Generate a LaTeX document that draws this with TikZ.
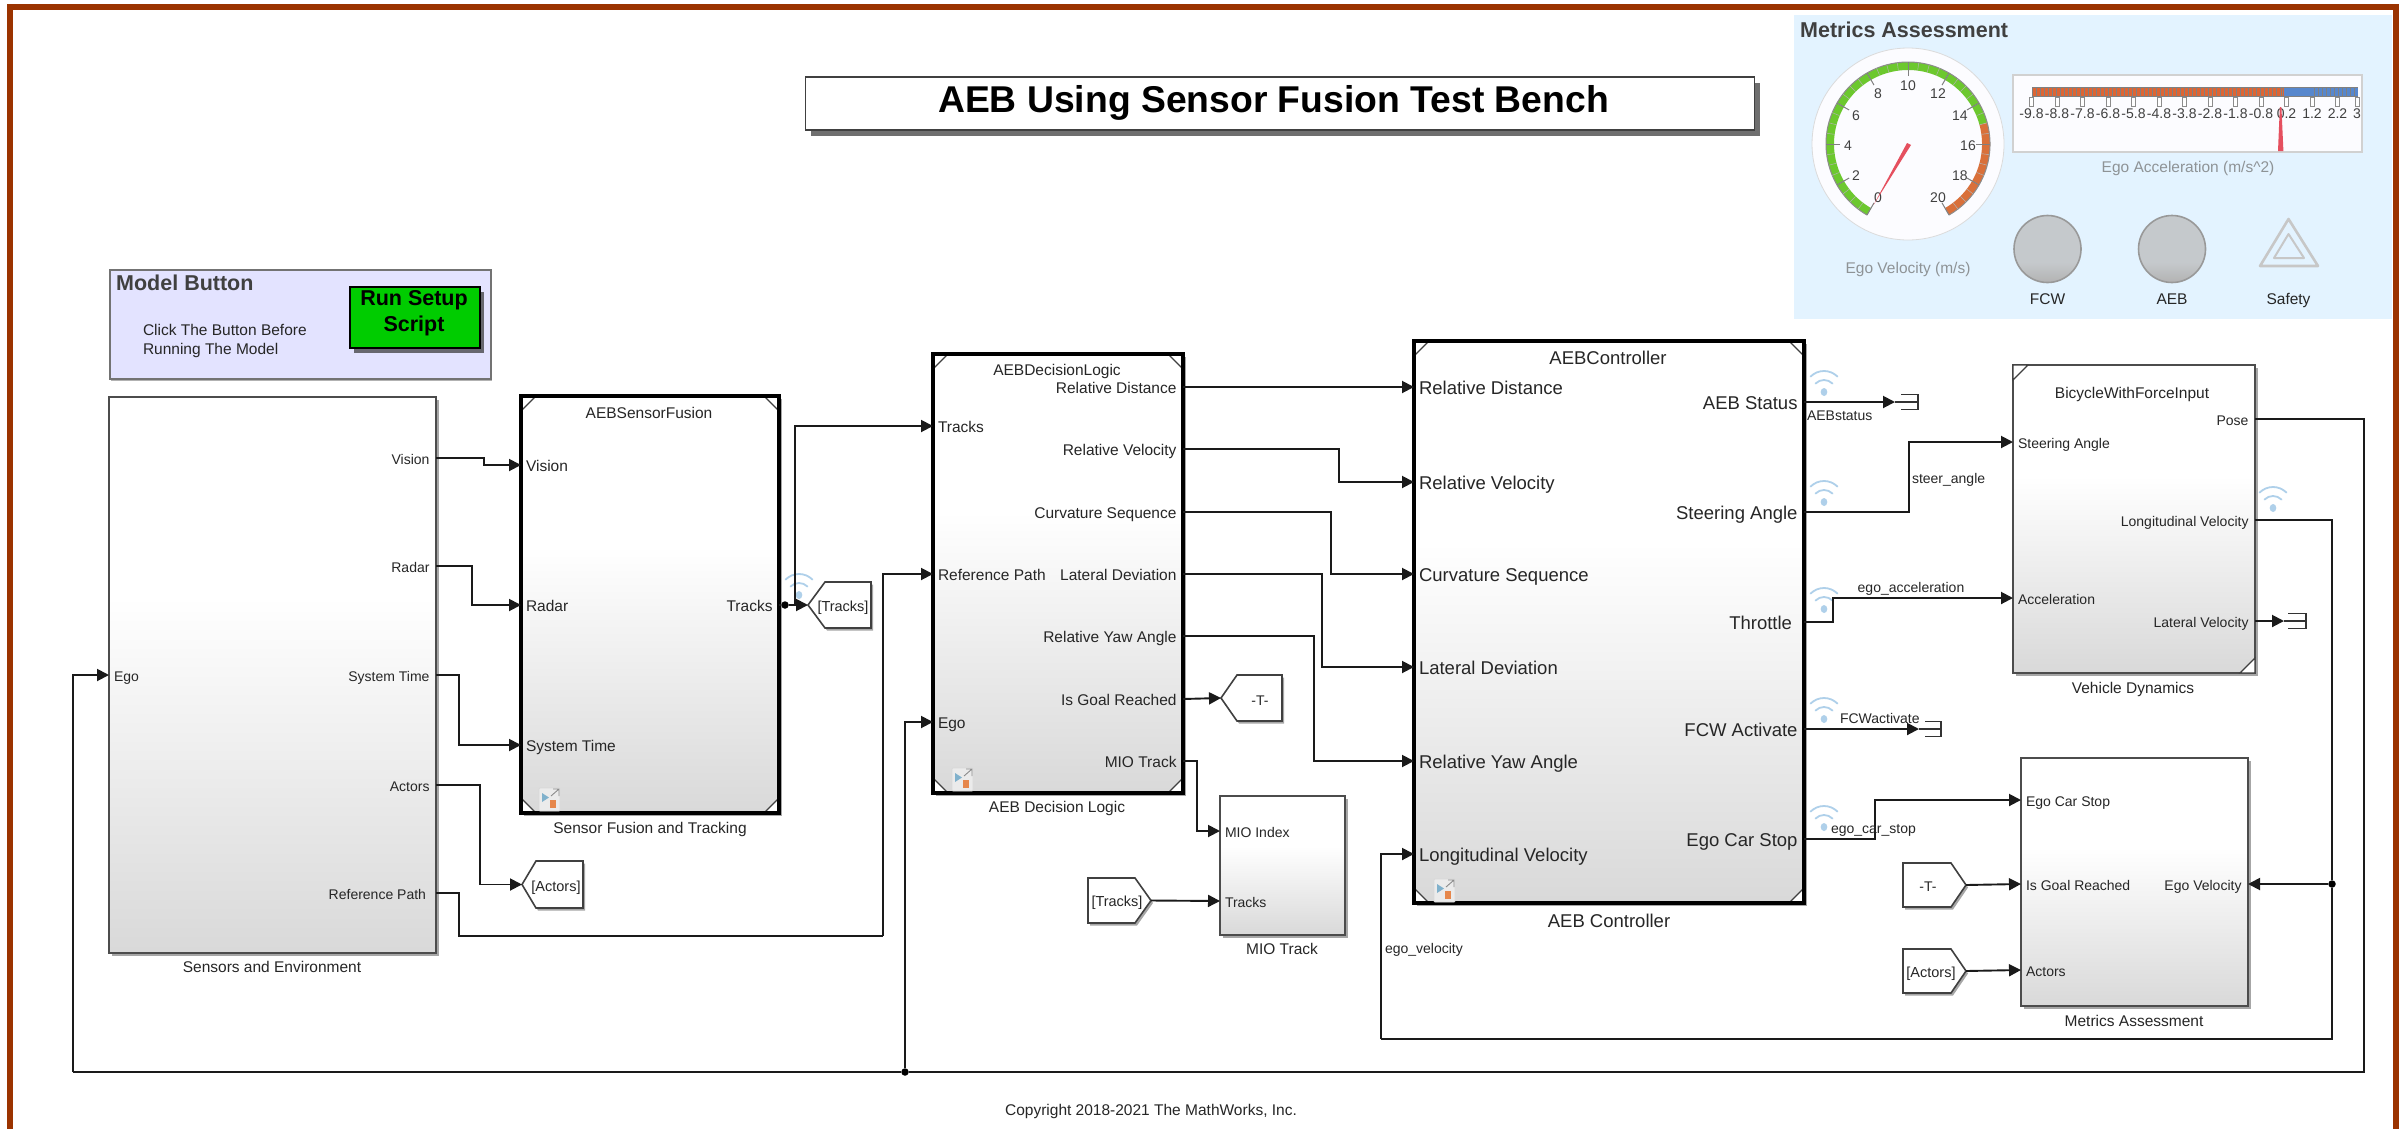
\documentclass[tikz,border=0pt]{standalone}
\usepackage{fontspec}
\setmainfont{Liberation Sans}
\usetikzlibrary{arrows.meta,shadows,calc}
\definecolor{brownframe}{HTML}{9B3300}
\definecolor{panelblue}{HTML}{E3F3FF}
\definecolor{wireblack}{HTML}{1A1A1A}
\definecolor{txt}{HTML}{262626}
\definecolor{wifiblue}{HTML}{AFD0EA}
\definecolor{ggreen}{HTML}{6CC82E}
\definecolor{gorange}{HTML}{D9703A}
\definecolor{nred}{HTML}{E5505F}
\definecolor{capgray}{HTML}{8E9396}
\definecolor{lampgray}{HTML}{C5C9CC}
\pgfdeclareverticalshading{simblock}{100bp}{color(0bp)=(black!15); color(25bp)=(black!15); color(57bp)=(white); color(100bp)=(white)}
\pgfdeclareverticalshading{lampshade}{100bp}{color(0bp)=(black!30); color(25bp)=(black!30); color(40bp)=(lampgray); color(100bp)=(lampgray)}
\tikzset{
  f14/.style={font=\fontsize{14}{16}\selectfont,text height=14.9pt,text depth=2.8pt,inner ysep=0pt},
  f15/.style={font=\fontsize{15.5}{18}\selectfont,text height=16.3pt,text depth=3.1pt,inner ysep=0pt},
  f18/.style={font=\fontsize{18.5}{22}\selectfont,text height=19pt,text depth=3.7pt,inner ysep=0pt},
  fb21/.style={font=\bfseries\fontsize{21.5}{25}\selectfont,text height=19.8pt,text depth=4.3pt,inner ysep=0pt},
  fb39/.style={font=\bfseries\fontsize{37.3}{44}\selectfont,text height=34.3pt,text depth=7.5pt,inner ysep=0pt},
  lab/.style={text=txt,inner sep=0pt,outer sep=0pt},
  pl/.style={lab,anchor=west,inner xsep=5pt},
  pr/.style={lab,anchor=east,inner xsep=6.5pt},
  blockbase/.style={anchor=north west,inner sep=0pt,outer sep=0pt,shade,shading=simblock,
     drop shadow={shadow xshift=2.5pt,shadow yshift=-3pt,fill=black,opacity=.35}},
  block/.style={blockbase,draw=black!70,line width=1.8pt},
  heavy/.style={blockbase,draw=black,line width=3.6pt},
  size/.style 2 args={minimum width=#1pt,minimum height=#2pt},
  conn/.style={draw=wireblack,line width=1.9pt,line join=miter},
  arr/.style={conn,-{Triangle[length=12pt,width=12pt]}},
  dotj/.style={circle,fill=black,inner sep=0pt,minimum size=7.5pt,outer sep=0pt},
  cornerl/.style={draw=black!75,line width=1.2pt,fill=white},
  tagshape/.style={draw=black!75,line width=1.6pt,fill=white,line join=miter,
     drop shadow={shadow xshift=2pt,shadow yshift=-2.5pt,fill=black,opacity=.35}},
  anch/.style={inner sep=0pt,outer sep=0pt,minimum height=1pt},
  wifiarc/.style={draw=wifiblue,line width=1.8pt,line cap=round},
  capt/.style={text=capgray,inner sep=0pt},
  panelt/.style={text=black!75,inner sep=0pt},
}
% tags: name, tip x, body x, far x, top y, bottom y
\newcommand{\tagleft}[6]{%
  \node[anch,minimum width={(#4-#2)*1pt},minimum height=2pt] (#1) at ({(#2+#4)/2},{(#5+#6)/2}) {};
  \draw[tagshape] (#1.west) -- (#3,#5) -- (#4,#5) -- (#4,#6) -- (#3,#6) -- cycle;}
\newcommand{\tagright}[6]{%
  \node[anch,minimum width={(#4-#2)*1pt},minimum height=2pt] (#1) at ({(#2+#4)/2},{(#5+#6)/2}) {};
  \draw[tagshape] (#1.east) -- (#3,#6) -- (#2,#6) -- (#2,#5) -- (#3,#5) -- cycle;}
% terminator: name, arrow-end x, body start x, far x, y, half height
\newcommand{\termin}[6]{%
  \node[anch,minimum width={(#4-#2)*1pt},minimum height=2pt] (#1) at ({(#2+#4)/2},#5) {};
  \draw[draw=black!80,line width=1.5pt] (#3,#5-#6) -- (#4,#5-#6) -- (#4,#5+#6) -- (#3,#5+#6);
  \draw[draw=black!80,line width=1.2pt] (#1.west) -- (#1.east);}
\newcommand{\wifisign}[2]{%
  \begin{scope}[shift={(#1,#2)},y=1pt]
    \fill[wifiblue] (0,0) ellipse (3.3 and 4);
    \draw[wifiarc] (45:12) arc (45:135:12);
    \draw[wifiarc] ($(0,2)+(45:19)$) arc (45:135:19);
  \end{scope}}
\newcommand{\refico}[2]{%
  \begin{scope}[shift={(#1,#2)}]
    \fill[black!8,draw=black!15,line width=.8pt,rounded corners=1pt] (0,0) rectangle (21,23);
    \fill[blue!35!cyan!60!black!50] (3,5) -- (3,14) -- (10,9.5) -- cycle;
    \fill[red!60!black!35!orange!70] (11,12) rectangle (17,20);
    \draw[black!45,line width=.9pt] (12,8) -- (20,1) (14,1) -- (20,1) -- (20,8);
  \end{scope}}
\begin{document}
\begin{tikzpicture}[x=1pt,y=-1pt]
\useasboundingbox (0,0) rectangle (2404,1128);
\fill[white] (0,0) rectangle (2404,1128);
% ---- dashboard panel
\fill[panelblue] (1794,15) rectangle (2392,319);
\draw[brownframe,line width=6pt,line join=miter] (10,1130) -- (10,7) -- (2395.5,7) -- (2395.5,1130);
\node[fb21,panelt,anchor=west] (dashtitle) at (1800,30) {Metrics Assessment};
% gauge
\begin{scope}[shift={(1908,144)},y=1pt]
  \draw[black!14,line width=.8pt,fill=blue!1!white] (0,0) circle (96);
  \draw[ggreen,line width=8pt] (240:78) arc (240:15:78);
  \draw[gorange,line width=8pt] (15:78) arc (15:-60:78);
  \draw[black!45,line width=1pt] (240:82) arc (240:-60:82);
  \foreach \u in {0,0.5,...,20}{\draw[black!30,line width=.5pt] ({240-15*\u}:74) -- ({240-15*\u}:82);}
  \foreach \u in {0,2,...,20}{\draw[black!50,line width=1pt] ({240-15*\u}:68) -- ({240-15*\u}:82);}
  \foreach \u in {0,2,...,20}{\node[f14,lab,text=black!75,anchor=center] (gaugelab\u) at ({240-15*\u}:60) {\u};}
  \fill[nred] (-1,1) -- (3,-1) -- (-34.5,-61) -- cycle;
\end{scope}
\node[f15,capt] (gaugecap) at (1908,267) {Ego Velocity (m/s)};
% linear gauge
\draw[black!18,line width=1.4pt,fill=blue!1!white] (2013,75) rectangle (2362,152);
\fill[black!50] (2031.5,87) rectangle (2358,97);
\foreach \k in {0,...,62}{\fill[gorange!90!red] ({2032.5+\k*4.0},88) rectangle ({2035.8+\k*4.0},96);}
\fill[black!50] (2281.5,87) rectangle (2283,97);
\foreach \k in {0,...,18}{\fill[cyan!45!blue!70!white] ({2283.5+\k*3.95},88) rectangle ({2286.8+\k*3.95},96);}
\foreach \v/\x in {-9.8/2031.5,-8.8/2057,-7.8/2082.5,-6.8/2108,-5.8/2133.5,-4.8/2159,-3.8/2184.5,-2.8/2210,-1.8/2235.5,-0.8/2261,0.2/2286.5,1.2/2312,2.2/2337.5,3/2357}{
  \draw[black!45,line width=.7pt,fill=white] (\x-2,97) rectangle (\x+2,106);
  \node[f14,lab,text=black!75,anchor=center] (lin\x) at (\x,112) {\v};}
\fill[nred] (2279.8,107) -- (2281.4,107) -- (2283.4,151) -- (2278,151) -- cycle;
\node[f15,capt] (lincap) at (2188,166) {Ego Acceleration (m/s\^{}2)};
% lamps
\node[circle,draw=black!40,line width=1.6pt,shade,shading=lampshade,minimum size=67pt,inner sep=0pt] (lampfcw) at (2047.5,249) {};
\node[circle,draw=black!40,line width=1.6pt,shade,shading=lampshade,minimum size=67pt,inner sep=0pt] (lampaeb) at (2172,249) {};
\node[f15,lab] (fcwtxt) at (2047.5,298) {FCW};
\node[f15,lab] (aebtxt) at (2172,298) {AEB};
\node[f15,lab] (safetxt) at (2288.5,298) {Safety};
\draw[black!22,line width=2.6pt,line join=round] (2288.5,219) -- (2318,266) -- (2260,266) -- cycle;
\draw[black!22,line width=2pt,line join=round] (2288.5,234) -- (2304,258) -- (2274,258) -- cycle;
% ---- title
\node[anchor=north west,inner sep=0pt,outer sep=0pt,size={949}{53},draw=black!75,line width=1.8pt,fill=white,
  drop shadow={shadow xshift=5pt,shadow yshift=-6pt,fill=black!70,opacity=.8}] (titlebox) at (805.5,77) {};
\node[fb39,text=black,inner sep=0pt] (titletxt) at (1273.5,99) {AEB Using Sensor Fusion Test Bench};
% ---- model button
\node[anchor=north west,inner sep=0pt,size={381}{109},draw=black!55,line width=1.6pt,fill=blue!11!white,
  drop shadow={shadow xshift=1.5pt,shadow yshift=-2pt,fill=black,opacity=.3}] (mbbox) at (109,269) {};
\node[fb21,panelt,anchor=west] (mbtitle) at (116,283) {Model Button};
\node[f15,lab,anchor=west] (mb1) at (143,329) {Click The Button Before};
\node[f15,lab,anchor=west] (mb2) at (143,348) {Running The Model};
\node[anchor=north west,inner sep=0pt,size={130}{61},draw=black,line width=1.6pt,fill=green!80!black,
  drop shadow={shadow xshift=4pt,shadow yshift=-5pt,fill=black!80,opacity=.7}] (runbtn) at (349,286) {};
\node[fb21,text=black,inner sep=0pt] (run1) at (414,298) {Run Setup};
\node[fb21,text=black,inner sep=0pt] (run2) at (414,324) {Script};
% ---- blocks
\node[block,size={327}{556}] (sens) at (109,397) {};
\node[heavy,size={258}{417}] (fus) at (521,396) {};
\node[heavy,size={250}{439}] (dec) at (933,354) {};
\node[heavy,size={390}{562}] (ctl) at (1414,341) {};
\node[block,size={242}{308}] (veh) at (2013,365) {};
\node[block,size={125}{139}] (mio) at (1220,796) {};
\node[block,size={227}{248}] (met) at (2021,758) {};
% corner marks
\foreach \b in {fus,dec,ctl}{
  \draw[cornerl] (\b.north west) -- ++(15,0) -- ++(-15,15) -- cycle;
  \draw[cornerl] (\b.north east) -- ++(-15,0) -- ++(15,15) -- cycle;
  \draw[cornerl] (\b.south west) -- ++(15,0) -- ++(-15,-15) -- cycle;
  \draw[cornerl] (\b.south east) -- ++(-15,0) -- ++(15,-15) -- cycle;
  \draw[black,line width=3.6pt] (\b.north west) rectangle (\b.south east);
}
\draw[cornerl] (veh.north west) -- ++(15,0) -- ++(-15,15) -- cycle;
\draw[cornerl] (veh.south east) -- ++(-15,0) -- ++(15,-15) -- cycle;
\refico{539}{788}
\refico{952}{768}
\refico{1434}{879}
% inner titles and captions
\node[f15,lab] (fust) at (649,412) {AEBSensorFusion};
\node[f15,lab] (dect) at (1057,369) {AEBDecisionLogic};
\node[f18,lab] (ctlt) at (1608,357) {AEBController};
\node[f15,lab] (veht) at (2132,392) {BicycleWithForceInput};
\node[f15,lab] (sensc) at (272,966) {Sensors and Environment};
\node[f15,lab] (fusc) at (650,827) {Sensor Fusion and Tracking};
\node[f15,lab] (decc) at (1057,806) {AEB Decision Logic};
\node[f15,lab] (mioc) at (1282,948) {MIO Track};
\node[f18,lab] (ctlc) at (1609,920) {AEB Controller};
\node[f15,lab] (vehc) at (2133,687) {Vehicle Dynamics};
\node[f15,lab] (metc) at (2134,1020) {Metrics Assessment};
\node[f15,lab] (copy) at (1151,1109) {Copyright 2018-2021 The MathWorks, Inc.};
% ports: sensors
\node[pl,f14] (s_ego) at (109,675) {Ego};
\node[pr,f14] (s_vision) at (436,458) {Vision};
\node[pr,f14] (s_radar) at (436,566) {Radar};
\node[pr,f14] (s_time) at (436,675) {System Time};
\node[pr,f14] (s_act) at (436,785) {Actors};
\node[pr,f14,inner xsep=10pt] (s_ref) at (436,893) {Reference Path};
% ports: fusion
\node[pl,f15] (f_vision) at (521,465) {Vision};
\node[pl,f15] (f_radar) at (521,605) {Radar};
\node[pl,f15] (f_time) at (521,745) {System Time};
\node[pr,f15] (f_tracks) at (779,605) {Tracks};
% ports: decision
\node[pl,f15] (d_tracks) at (933,426) {Tracks};
\node[pl,f15] (d_ref) at (933,574) {Reference Path};
\node[pl,f15] (d_ego) at (933,722) {Ego};
\node[pr,f15] (d_rd) at (1183,387) {Relative Distance};
\node[pr,f15] (d_rv) at (1183,449) {Relative Velocity};
\node[pr,f15] (d_cs) at (1183,512) {Curvature Sequence};
\node[pr,f15] (d_ld) at (1183,574) {Lateral Deviation};
\node[pr,f15] (d_ya) at (1183,636) {Relative Yaw Angle};
\node[pr,f15] (d_goal) at (1183,699) {Is Goal Reached};
\node[pr,f15] (d_mio) at (1183,761) {MIO Track};
% ports: controller
\node[pl,f18] (c_rd) at (1414,387) {Relative Distance};
\node[pl,f18] (c_rv) at (1414,482) {Relative Velocity};
\node[pl,f18] (c_cs) at (1414,574) {Curvature Sequence};
\node[pl,f18] (c_ld) at (1414,667) {Lateral Deviation};
\node[pl,f18] (c_ya) at (1414,761) {Relative Yaw Angle};
\node[pl,f18] (c_long) at (1414,854) {Longitudinal Velocity};
\node[pr,f18] (c_stat) at (1804,402) {AEB Status};
\node[pr,f18] (c_steer) at (1804,512) {Steering Angle};
\node[pr,f18,inner xsep=12pt] (c_thr) at (1804,622) {Throttle};
\node[pr,f18] (c_fcw) at (1804,729) {FCW Activate};
\node[pr,f18] (c_stop) at (1804,839) {Ego Car Stop};
% ports: vehicle
\node[pl,f14] (v_steer) at (2013,442) {Steering Angle};
\node[pl,f14] (v_acc) at (2013,598) {Acceleration};
\node[pr,f14] (v_pose) at (2255,419) {Pose};
\node[pr,f14] (v_long) at (2255,520) {Longitudinal Velocity};
\node[pr,f14] (v_lat) at (2255,621) {Lateral Velocity};
% ports: MIO
\node[pl,f14] (m_idx) at (1220,831) {MIO Index};
\node[pl,f14] (m_tracks) at (1220,901) {Tracks};
% ports: metrics
\node[pl,f14] (a_stop) at (2021,800) {Ego Car Stop};
\node[pl,f14] (a_goal) at (2021,884) {Is Goal Reached};
\node[pl,f14] (a_act) at (2021,970) {Actors};
\node[pr,f14] (a_vel) at (2248,884) {Ego Velocity};
% tags
\tagleft{g_tracks}{808}{825}{871}{582}{628}
\node[f14,lab,font=\fontsize{14.5}{17}\selectfont] (g_trackst) at (843,605) {[Tracks]};
\tagleft{g_actors}{522}{536}{583}{861}{908}
\node[f14,lab,font=\fontsize{14.5}{17}\selectfont] (g_actorst) at (556,885) {[Actors]};
\tagleft{g_t}{1221}{1237}{1282}{675}{721}
\node[f14,lab] (g_tt) at (1260,699) {-T-};
\tagright{r_tracks}{1088}{1135}{1151}{878}{923}
\node[f14,lab,font=\fontsize{14.5}{17}\selectfont] (r_trackst) at (1117,900) {[Tracks]};
\tagright{r_t}{1903}{1951}{1966}{863}{907}
\node[f14,lab] (r_tt) at (1928,885) {-T-};
\tagright{r_actors}{1903}{1951}{1966}{949}{993}
\node[f14,lab,font=\fontsize{14.5}{17}\selectfont] (r_actorst) at (1931,971) {[Actors]};
% terminators
\termin{t_stat}{1895}{1901}{1918}{402}{7.5}
\termin{t_lat}{2284}{2288}{2306}{621}{7.5}
\termin{t_fcw}{1919}{1925}{1941}{729}{7.5}
% wireless signs
\wifisign{799}{595}
\wifisign{1824}{392}
\wifisign{1824}{502}
\wifisign{1824}{609}
\wifisign{1824}{719}
\wifisign{1824}{827}
\wifisign{2273}{508}
% way points and junctions
\node[dotj] (j_tr) at (785,605) {};
\node[dotj] (j_ego) at (905,1072) {};
\node[dotj] (j_vel) at (2332,884) {};
\coordinate (w_ref) at (883,936);
\coordinate (w_ego) at (73,1072);
\coordinate (w_pose) at (2364,1072);
\coordinate (w_long) at (1381,1039);
\coordinate (w_longr) at (2332,1039);
% connectors
\draw[arr] (s_vision.east) -- ++(48,0) |- (f_vision.west);
\draw[arr] (s_radar.east) -- ++(36,0) |- (f_radar.west);
\draw[arr] (s_time.east) -- ++(23,0) |- (f_time.west);
\draw[arr] (s_act.east) -- ++(44,0) |- (g_actors.west);
\draw[conn] (s_ref.east) -- ++(23,0) |- (w_ref);
\draw[arr] (w_ref) |- (d_ref.west);
\draw[conn] (f_tracks.east) -- (j_tr);
\draw[arr] (j_tr) -- (g_tracks.west);
\draw[arr] (j_tr.center) ++(10,0) |- (d_tracks.west);
\draw[arr] (d_rd.east) -- (c_rd.west);
\draw[arr] (d_rv.east) -- ++(156,0) |- (c_rv.west);
\draw[arr] (d_cs.east) -- ++(148,0) |- (c_cs.west);
\draw[arr] (d_ld.east) -- ++(139,0) |- (c_ld.west);
\draw[arr] (d_ya.east) -- ++(131,0) |- (c_ya.west);
\draw[arr] (d_goal.east) -- (g_t.west);
\draw[arr] (d_mio.east) -- ++(14,0) |- (m_idx.west);
\draw[arr] (r_tracks.east) -- (m_tracks.west);
\draw[arr] (c_stat.east) -- (t_stat.west);
\draw[arr] (c_steer.east) -- ++(105,0) |- (v_steer.west);
\draw[arr] (c_thr.east) -- ++(29,0) |- (v_acc.west);
\draw[arr] (c_fcw.east) -- (t_fcw.west);
\draw[arr] (c_stop.east) -- ++(71,0) |- (a_stop.west);
\draw[arr] (v_lat.east) -- (t_lat.west);
\draw[arr] (r_t.east) -- (a_goal.west);
\draw[arr] (r_actors.east) -- (a_act.west);
\draw[conn] (v_pose.east) -| (w_pose) -- (j_ego);
\draw[conn] (j_ego) -- (w_ego);
\draw[arr] (w_ego) |- (s_ego.west);
\draw[arr] (j_ego) |- (d_ego.west);
\draw[conn] (v_long.east) -| (j_vel);
\draw[arr] (j_vel) -- (a_vel.east);
\draw[conn] (j_vel) -- (w_longr) -- (w_long);
\draw[arr] (w_long) |- (c_long.west);
% signal labels
\node[f14,lab,anchor=west] (sl_steer) at (1912,477) {steer\_angle};
\node[f14,lab] (sl_acc) at (1911,586) {ego\_acceleration};
\node[f14,lab,anchor=west] (sl_stat) at (1807,414) {AEBstatus};
\node[f14,lab,anchor=west] (sl_fcw) at (1840,717) {FCWactivate};
\node[f14,lab,anchor=west] (sl_stop) at (1831,827) {ego\_car\_stop};
\node[f14,lab,anchor=west] (sl_vel) at (1385,947) {ego\_velocity};
\end{tikzpicture}
\end{document}
